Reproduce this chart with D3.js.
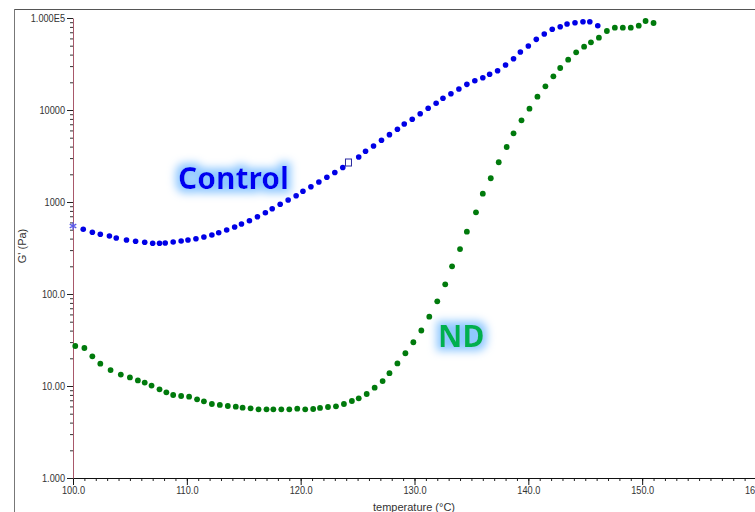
<!DOCTYPE html>
<html>
<head>
<meta charset="utf-8">
<script src="https://cdn.jsdelivr.net/npm/d3@7"></script>
<style>
body { margin:0; background:#fff; }
svg { display:block; font-family: "Liberation Sans", Arial, sans-serif; }
</style>
</head>
<body>
<div id="chart"></div>
<script>
// temperature (°C) and G' (Pa)
var controlTemp = [100.0,100.9,101.7,102.4,103.2,103.8,104.7,105.5,106.3,107.0,107.6,108.1,108.8,109.5,110.1,110.8,111.5,112.2,112.8,113.5,
  114.2,114.8,115.5,116.2,116.9,117.5,118.2,118.9,119.6,120.2,120.9,121.6,122.3,123.0,123.7,124.2,125.1,125.7,126.4,127.1,
  127.8,128.5,129.1,129.8,130.5,131.2,131.9,132.5,133.2,133.9,134.6,135.3,136.0,136.6,137.3,138.0,138.7,139.3,140.0,140.7,
  141.4,142.1,142.8,143.4,144.1,144.8,145.4,146.1];
var controlG = [548,505,469,446,427,406,386,374,365,356,356,358,368,377,386,399,417,438,464,496,
  535,577,626,692,765,846,944,1051,1171,1307,1467,1650,1855,2093,2371,2687,3084,3557,4062,4686,
  5393,6166,7045,7925,9120,10430,11830,13400,15040,16910,19010,20810,22440,24430,26730,30830,36120,42690,49640,58640,
  66990,75370,80430,86050,88890,91180,91180,82440];
var ndTemp = [100.2,101.0,101.7,102.4,103.3,104.2,105.0,105.7,106.3,106.9,107.6,108.2,108.8,109.5,110.2,110.9,111.5,112.2,112.9,113.6,
  114.3,114.9,115.6,116.3,117.0,117.6,118.3,119.0,119.7,120.4,121.1,121.7,122.4,123.1,123.8,124.5,125.1,125.8,126.5,127.2,
  127.8,128.5,129.2,129.9,130.6,131.3,132.0,132.7,133.3,134.0,134.6,135.4,136.0,136.7,137.4,138.1,138.7,139.4,140.1,140.8,
  141.5,142.2,142.8,143.5,144.2,144.9,145.5,146.2,146.9,147.6,148.3,149.0,149.7,150.3,151.0];
var ndG = [27.2,25.9,21.0,17.5,14.9,13.3,12.4,11.5,10.9,10.1,9.21,8.54,7.98,7.79,7.65,7.17,6.82,6.37,6.22,6.06,
  5.96,5.81,5.72,5.58,5.58,5.58,5.58,5.58,5.67,5.58,5.62,5.77,5.91,6.02,6.37,6.87,7.35,8.19,9.59,11.3,
  13.8,17.6,22.7,29.9,40.1,56.7,83.3,127.5,200,308,476,773,1231,1811,2703,3963,5580,7727,10330,13950,
  18100,23240,28620,35230,42390,48750,54450,61080,72250,78500,78500,78500,82450,92760,88240];
var yTicks = [1,10,100,1000,10000,100000];
var yTickLabels = ["1.000","10.00","100.0","1000","10000","1.000E5"];
var xTicks = [100,110,120,130,140,150,160];
var squareIndex = 35;

var width = 755, height = 512;
var svg = d3.select("#chart").append("svg").attr("width", width).attr("height", height);

// glow behind the big labels
var defs = svg.append("defs");
var f = defs.append("filter").attr("id","glow").attr("x","-30%").attr("y","-40%").attr("width","160%").attr("height","180%");
f.append("feMorphology").attr("in","SourceAlpha").attr("operator","dilate").attr("radius",4).attr("result","d");
f.append("feGaussianBlur").attr("in","d").attr("stdDeviation",4).attr("result","b");
f.append("feFlood").attr("flood-color","#8fc8ff");
f.append("feComposite").attr("in2","b").attr("operator","in").attr("result","g");
var m = f.append("feMerge");
m.append("feMergeNode").attr("in","g");
m.append("feMergeNode").attr("in","SourceGraphic");

// frame
svg.append("line").attr("x1",14).attr("x2",755).attr("y1",9.5).attr("y2",9.5).attr("stroke","#555");
svg.append("line").attr("x1",14.5).attr("x2",14.5).attr("y1",9).attr("y2",512).attr("stroke","#777");

var x = d3.scaleLinear().domain([100,160]).range([73,756]);
var y = d3.scaleLog().domain([1,100000]).range([478,18]);

// x axis, minor then major
var minorX = d3.range(100,161,1);
svg.append("g").attr("transform","translate(0,478)")
  .call(d3.axisBottom(x).tickValues(minorX).tickSize(3).tickFormat(""))
  .call(function(g){ g.select(".domain").remove(); g.selectAll("line").attr("stroke","#222"); });
var gx = svg.append("g").attr("transform","translate(0,478)")
  .call(d3.axisBottom(x).tickValues(xTicks).tickSize(7).tickSizeOuter(0).tickFormat(d3.format(".1f")));
gx.select(".domain").attr("stroke","#111");
gx.selectAll("line").attr("stroke","#111");
gx.selectAll("text").attr("font-size",11.5).attr("fill","#333").attr("dy","0.9em").attr("y",6);

// y axis, minor then major
var minorY = [];
for (var p=0;p<5;p++) for (var k=2;k<10;k++) minorY.push(k*Math.pow(10,p));
svg.append("g").attr("transform","translate(73,0)")
  .call(d3.axisLeft(y).tickValues(minorY).tickSize(3).tickFormat(""))
  .call(function(g){ g.select(".domain").remove(); g.selectAll("line").attr("stroke","#333"); });
var gy = svg.append("g").attr("transform","translate(73,0)")
  .call(d3.axisLeft(y).tickValues(yTicks).tickSize(6).tickSizeOuter(0).tickFormat(function(d,i){ return yTickLabels[i]; }));
gy.select(".domain").attr("stroke","#a8586a");
gy.selectAll("line").attr("stroke","#222");
gy.selectAll("text").attr("font-size",11.5).attr("fill","#333").attr("x",-8);

// narrow the tick labels like the original
svg.selectAll(".tick text").each(function(){
  var t = d3.select(this), len = this.getComputedTextLength();
  if (len > 0) t.attr("textLength", len*0.8).attr("lengthAdjust","spacingAndGlyphs");
});

// axis titles
svg.append("text").attr("x",414).attr("y",511).attr("text-anchor","middle")
  .attr("font-size",11).attr("fill","#333").text("temperature (°C)");
svg.append("text").attr("transform","translate(26,246) rotate(-90)").attr("text-anchor","middle")
  .attr("font-size",11).attr("fill","#333").text("G' (Pa)");

// points
var controlData = controlTemp.map(function(t,i){ return [t, controlG[i]]; });
var ndData = ndTemp.map(function(t,i){ return [t, ndG[i]]; });

svg.append("g").selectAll("circle").data(ndData).enter().append("circle")
  .attr("cx",function(d){ return x(d[0]); }).attr("cy",function(d){ return y(d[1]); })
  .attr("r",2.9).attr("fill","#007a0c");

svg.append("g").selectAll("circle").data(controlData.filter(function(d,i){ return i!=0 && i!=squareIndex; })).enter().append("circle")
  .attr("cx",function(d){ return x(d[0]); }).attr("cy",function(d){ return y(d[1]); })
  .attr("r",2.8).attr("fill","#0000e6");

// star on first point, hollow square on the cursor point
svg.append("path").attr("d", d3.symbol().type(d3.symbolAsterisk).size(40)())
  .attr("transform","translate("+x(controlData[0][0])+","+y(controlData[0][1])+")")
  .attr("stroke","#5a5ae8").attr("stroke-width",1.3).attr("fill","none");
svg.append("rect").attr("x",x(controlData[squareIndex][0])-3).attr("y",y(controlData[squareIndex][1])-3.5)
  .attr("width",6).attr("height",7).attr("fill","#fff").attr("stroke","#2a2aa0").attr("stroke-width",1);

// big labels
svg.append("text").attr("x",178).attr("y",189).attr("font-family","'Noto Sans', sans-serif").attr("font-size",30).attr("font-weight","bold")
  .attr("fill","#0000f0").attr("filter","url(#glow)").text("Control");
svg.append("text").attr("x",438).attr("y",347).attr("font-family","'Noto Sans', sans-serif").attr("font-size",30).attr("font-weight","bold")
  .attr("fill","#00b050").attr("filter","url(#glow)").text("ND");
</script>
</body>
</html>
